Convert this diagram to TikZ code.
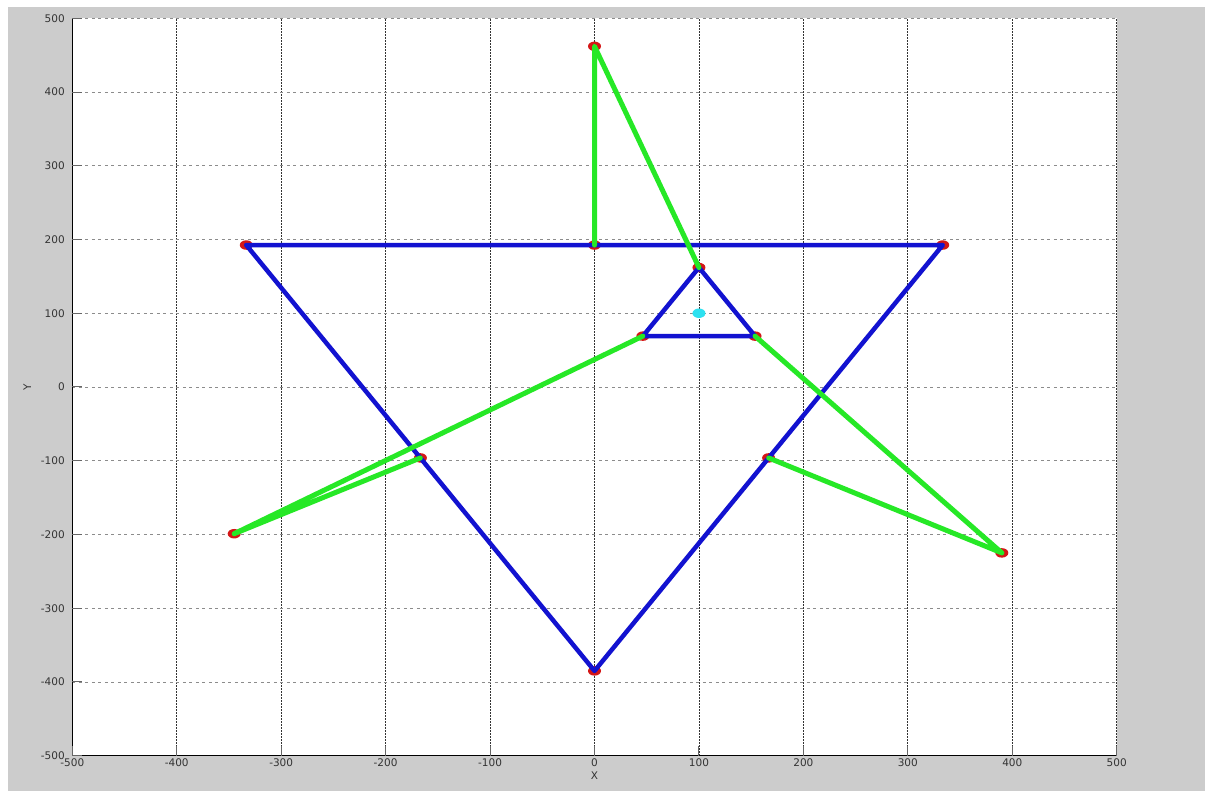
\documentclass[tikz,border=0pt]{standalone}
\usepackage{fontspec}
\setmainfont{DejaVu Sans}
\usetikzlibrary{shapes.geometric}
\definecolor{fondgris}{RGB}{204,204,204}
\definecolor{bleuM}{RGB}{18,18,208}
\definecolor{vertM}{RGB}{38,232,38}
\definecolor{rougeM}{RGB}{212,22,22}
\definecolor{cyanM}{RGB}{45,225,240}
\begin{document}
\begin{tikzpicture}[x=1pt,y=1pt]
	% Styles (MODIFIABLES)
	\tikzstyle{grilleV}=[black!80,line width=0.8pt,dash pattern=on 1.2pt off 1.8pt]
	\tikzstyle{grilleH}=[black!45,line width=0.9pt,dash pattern=on 3pt off 3.5pt]
	\tikzstyle{axe}=[black,line width=1.3pt]
	\tikzstyle{graduation}=[black!60,line width=1pt]
	\tikzstyle{etiquette}=[black!80,font=\fontsize{10.5}{12}\selectfont,inner sep=0pt]
	\tikzstyle{segBleu}=[bleuM,line width=4.5pt,line cap=round,line join=round]
	\tikzstyle{segVert}=[vertM,line width=5pt,line cap=round,line join=round]
	\tikzstyle{sommet}=[ellipse,fill=rougeM,inner sep=0pt,minimum width=13pt,minimum height=9.5pt]
	\tikzstyle{centre}=[sommet,fill=cyanM]
	% Dimensions (MODIFIABLES)
	\def\EchelleX{1.0444}
	\def\EchelleY{0.7374}
	\def\OrigineX{594.5}
	\def\OrigineY{404}
	% Cadre de la figure
	\useasboundingbox (0,0) rectangle (1213,791);
	\fill[fondgris] (8,0) rectangle (1205,784);
	\begin{scope}[shift={(\OrigineX,\OrigineY)},xscale=\EchelleX,yscale=\EchelleY]
		% Zone du graphe et grille
		\fill[white] (-500,-500) rectangle (500,500);
		\foreach \v in {-400,-300,...,500} \draw[grilleV] (\v,-500) -- (\v,500);
		\foreach \v in {-400,-300,...,500} \draw[grilleH] (-500,\v) -- (500,\v);
		% Axes et graduations
		\draw[axe] (-500,500) -- (-500,-500) -- (500,-500);
		\foreach \v in {-500,-400,...,500}{
			\draw[graduation] (\v,-500) -- ++(0,13);
			\draw[graduation] (-500,\v) -- ++(9.5,0);
			\node[etiquette,anchor=north] (gx\v) at (\v,-504) {\v};
			\node[etiquette,anchor=east] (gy\v) at (-507,\v) {\v};
		}
		\node[etiquette] (titreX) at (0,-527) {X};
		\node[etiquette,rotate=90] (titreY) at (-543,0) {Y};
		% Noeuds
		\node[sommet] (Haut) at (0,462) {};
		\node[sommet] (Milieu) at (0,192.5) {};
		\node[sommet] (GrandG) at (-333.4,192.5) {};
		\node[sommet] (GrandD) at (333.4,192.5) {};
		\node[sommet] (GrandB) at (0,-385) {};
		\node[sommet] (PetitH) at (100,162) {};
		\node[sommet] (PetitG) at (46.3,69) {};
		\node[sommet] (PetitD) at (153.7,69) {};
		\node[sommet] (MilG) at (-166.7,-96.2) {};
		\node[sommet] (MilD) at (166.7,-96.2) {};
		\node[sommet] (ExtG) at (-345,-199) {};
		\node[sommet] (ExtD) at (390,-225) {};
		\node[centre] (Centre) at (100,100) {};
		% Segments bleus
		\draw[segBleu] (GrandG.center) -- (GrandD.center) -- (GrandB.center) -- (GrandG.center);
		\draw[segBleu] (PetitH.center) -- (PetitD.center) -- (PetitG.center) -- (PetitH.center);
		% Segments verts
		\draw[segVert] (Milieu.center) -- (Haut.center) -- (PetitH.center);
		\draw[segVert] (PetitG.center) -- (ExtG.center) -- (MilG.center);
		\draw[segVert] (PetitD.center) -- (ExtD.center) -- (MilD.center);
	\end{scope}
\end{tikzpicture}
\end{document}
